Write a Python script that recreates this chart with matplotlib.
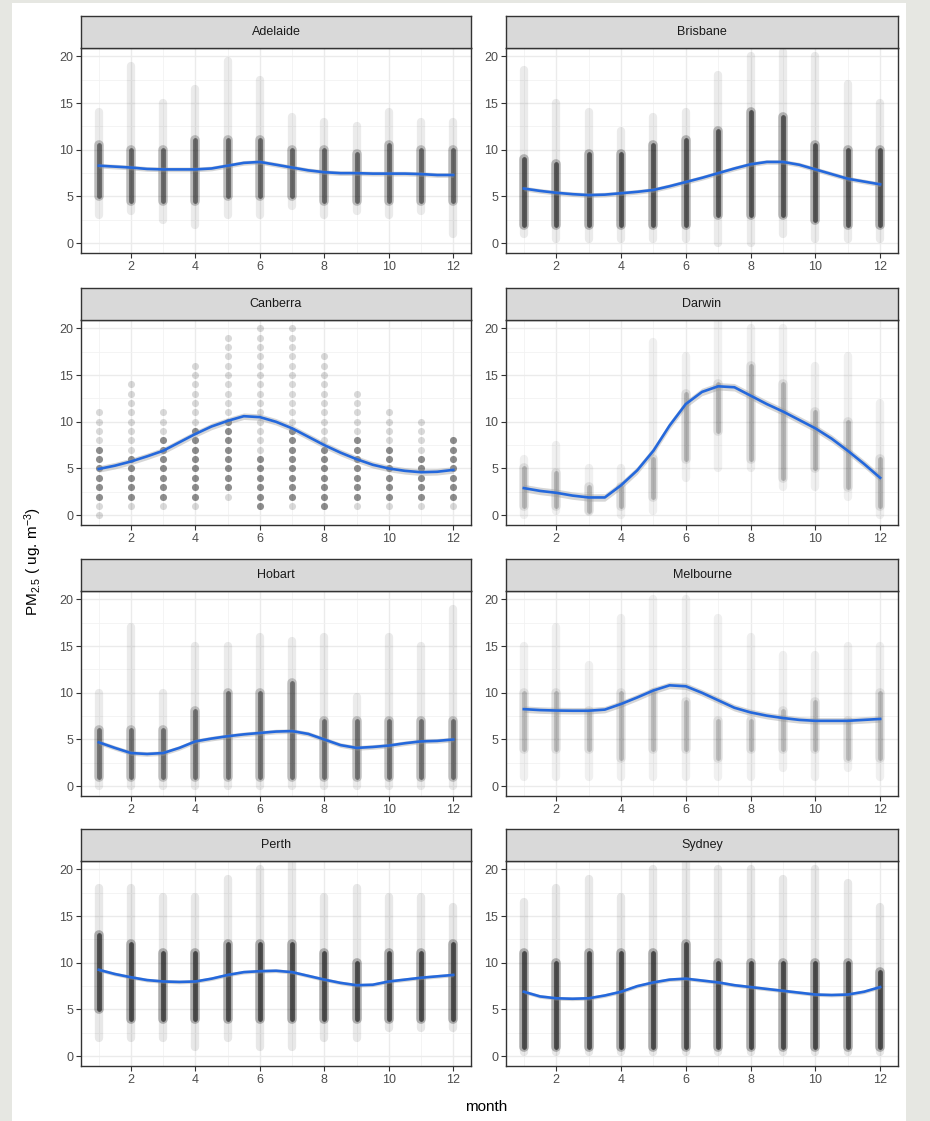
import numpy as np
import matplotlib.pyplot as plt
from matplotlib.patches import Rectangle

plt.rcParams['font.family'] = ['Liberation Sans', 'DejaVu Sans']
plt.rcParams['mathtext.default'] = 'regular'

cities = ["Adelaide", "Brisbane", "Canberra", "Darwin",
          "Hobart", "Melbourne", "Perth", "Sydney"]
months = [1, 2, 3, 4, 5, 6, 7, 8, 9, 10, 11, 12]
fit_x = [1, 1.5, 2, 2.5, 3, 3.5, 4, 4.5, 5, 5.5, 6, 6.5,
         7, 7.5, 8, 8.5, 9, 9.5, 10, 10.5, 11, 11.5, 12]
x_ticks = [2, 4, 6, 8, 10, 12]
y_ticks = [0, 5, 10, 15, 20]

# loess fit (half month steps)
adelaide_fit = [8.3, 8.2, 8.1, 7.95, 7.9, 7.9, 7.9, 8.0, 8.3, 8.6, 8.7, 8.4,
                8.1, 7.8, 7.6, 7.5, 7.5, 7.45, 7.45, 7.45, 7.4, 7.3, 7.3]
brisbane_fit = [5.85, 5.6, 5.4, 5.25, 5.15, 5.2, 5.35, 5.5, 5.7, 6.1, 6.55, 7.0,
                7.5, 8.0, 8.45, 8.7, 8.7, 8.4, 7.9, 7.4, 6.9, 6.6, 6.3]
canberra_fit = [4.95, 5.3, 5.75, 6.3, 6.9, 7.8, 8.7, 9.5, 10.1, 10.6, 10.5, 10.0,
                9.3, 8.4, 7.5, 6.7, 6.0, 5.4, 5.0, 4.75, 4.6, 4.65, 4.85]
darwin_fit = [2.9, 2.6, 2.4, 2.1, 1.9, 1.9, 3.2, 4.8, 6.9, 9.6, 11.9, 13.2,
              13.8, 13.7, 12.8, 11.9, 11.1, 10.2, 9.3, 8.2, 6.9, 5.5, 4.0]
hobart_fit = [4.7, 4.1, 3.55, 3.45, 3.55, 4.1, 4.8, 5.1, 5.35, 5.55, 5.7, 5.85,
              5.9, 5.6, 5.0, 4.4, 4.1, 4.2, 4.35, 4.6, 4.8, 4.85, 5.0]
melbourne_fit = [8.25, 8.15, 8.1, 8.08, 8.08, 8.2, 8.8, 9.5, 10.25, 10.8, 10.7, 10.0,
                 9.2, 8.4, 7.9, 7.55, 7.3, 7.1, 7.0, 7.0, 7.0, 7.1, 7.2]
perth_fit = [9.25, 8.8, 8.45, 8.15, 8.0, 7.95, 8.0, 8.3, 8.7, 9.0, 9.1, 9.15,
             9.0, 8.6, 8.2, 7.85, 7.6, 7.65, 8.0, 8.2, 8.4, 8.55, 8.7]
sydney_fit = [6.9, 6.4, 6.2, 6.15, 6.2, 6.5, 6.9, 7.5, 7.9, 8.2, 8.3, 8.1,
              7.9, 7.6, 7.4, 7.2, 7.0, 6.8, 6.6, 6.55, 6.6, 6.9, 7.4]
fit_se = [0.25, 0.25, 0.35, 0.4, 0.25, 0.35, 0.2, 0.2]

# spread of daily values per month: full range and dense core
adelaide_lo = [3, 3.5, 2.5, 2, 3, 3, 4, 3, 3.5, 3, 3.5, 1]
adelaide_hi = [14, 19, 15, 16.5, 19.5, 17.5, 13.5, 13, 12.5, 14, 13, 13]
adelaide_core_lo = [5, 4.5, 4.5, 4.5, 5, 5, 5, 4.5, 4.5, 4.5, 4.5, 4.5]
adelaide_core_hi = [10.5, 10, 10, 11, 11, 11, 10, 10, 9.5, 10.5, 10, 10]

brisbane_lo = [1, 0.5, 0.5, 0.5, 0.5, 0.5, 0, 0, 1, 0.5, 0.5, 0.5]
brisbane_hi = [18.5, 15, 14, 12, 13.5, 14, 18, 20, 20.5, 20, 17, 15]
brisbane_core_lo = [2, 2, 2, 2, 2, 2, 3, 3, 3, 2.5, 2, 2]
brisbane_core_hi = [9, 8.5, 9.5, 9.5, 10.5, 11, 12, 14, 13.5, 10.5, 10, 10]

canberra_lo = [0, 1, 1, 1, 2, 1, 1, 1, 1, 1, 1, 1]
canberra_hi = [11, 14, 11, 16, 19, 20, 20, 17, 13, 11, 10, 8]
canberra_core_lo = [2, 2, 2, 2, 3, 1, 2, 1, 2, 2, 2, 2]
canberra_core_hi = [7, 6, 8, 9, 10, 6, 9, 7, 8, 7, 6, 8]

darwin_lo = [0, 0.5, 0.5, 0, 0.5, 4, 5, 5, 3, 3, 2, 0]
darwin_hi = [6, 7.5, 5, 5, 18.5, 17, 21, 20, 20, 16, 17, 12]
darwin_core_lo = [1, 1, 0.5, 1, 2, 6, 9, 6, 4, 5, 3, 1]
darwin_core_hi = [5, 4.5, 3, 3, 6, 13, 14, 16, 14, 11, 10, 6]

hobart_lo = [0, 0, 0, 0, 0, 0, 0, 0, 0, 0, 0, 0]
hobart_hi = [10, 17, 10, 15, 15, 16, 15.5, 16, 9.5, 16, 15, 19]
hobart_core_lo = [1, 1, 1, 1, 1, 1, 1, 1, 1, 1, 1, 1]
hobart_core_hi = [6, 6, 6, 8, 10, 10, 11, 7, 7, 7, 7, 7]

melbourne_lo = [1, 1, 1, 1, 1, 1, 1, 1, 2, 1, 2, 1]
melbourne_hi = [15, 17, 13, 18, 20, 20, 18, 16, 14, 14, 15, 15]
melbourne_core_lo = [4, 4, 4, 3, 4, 4, 3, 4, 4, 4, 3, 3]
melbourne_core_hi = [10, 10, 8, 10, 10, 9, 7, 7, 8, 9, 7, 10]

perth_lo = [2, 2, 2, 1, 2, 1, 1, 2, 2, 3, 3, 3]
perth_hi = [18, 18, 17, 17, 19, 20, 21, 17, 18, 17, 17, 16]
perth_core_lo = [5, 4, 4, 4, 4, 4, 4, 4, 4, 4, 4, 4]
perth_core_hi = [13, 12, 11, 11, 12, 12, 12, 11, 10, 11, 11, 12]

sydney_lo = [0.5, 0.5, 0.5, 0.5, 0.5, 0.5, 0.5, 0.5, 0.5, 0.5, 0.5, 0.5]
sydney_hi = [16.5, 18, 19, 17, 20, 21, 20, 20, 19, 20, 18.5, 16]
sydney_core_lo = [1, 1, 1, 1, 1, 1, 1, 1, 1, 1, 1, 1]
sydney_core_hi = [11, 10, 11, 11, 11, 12, 10, 10, 10, 10, 10, 9]

# how dark the point columns look in each panel
core_alpha = [0.6, 0.7, 0.35, 0.25, 0.55, 0.22, 0.75, 0.75]
range_alpha = [0.08, 0.08, 0.15, 0.06, 0.08, 0.06, 0.09, 0.09]

fits = [adelaide_fit, brisbane_fit, canberra_fit, darwin_fit,
        hobart_fit, melbourne_fit, perth_fit, sydney_fit]
los = [adelaide_lo, brisbane_lo, canberra_lo, darwin_lo,
       hobart_lo, melbourne_lo, perth_lo, sydney_lo]
his = [adelaide_hi, brisbane_hi, canberra_hi, darwin_hi,
       hobart_hi, melbourne_hi, perth_hi, sydney_hi]
core_los = [adelaide_core_lo, brisbane_core_lo, canberra_core_lo, darwin_core_lo,
            hobart_core_lo, melbourne_core_lo, perth_core_lo, sydney_core_lo]
core_his = [adelaide_core_hi, brisbane_core_hi, canberra_core_hi, darwin_core_hi,
            hobart_core_hi, melbourne_core_hi, perth_core_hi, sydney_core_hi]

W, H = 930, 1121
fig = plt.figure(figsize=(W/100, H/100), dpi=100, facecolor='#e6e7e2')
fig.patches.append(Rectangle((12/W, 0), (906-12)/W, 1-3/H, transform=fig.transFigure,
                             facecolor='white', edgecolor='none', zorder=-1))

col_x = [81, 506]
col_w = [390, 392]
strip_top = [16, 288, 559, 829]
strip_h = 32
panel_h = 205

for i, city in enumerate(cities):
    r, c = divmod(i, 2)
    left = col_x[c]/W
    width = col_w[c]/W
    top = strip_top[r] + strip_h
    ax = fig.add_axes([left, 1-(top+panel_h)/H, width, panel_h/H])
    sax = fig.add_axes([left, 1-top/H, width, strip_h/H])

    # points
    m = np.array(months)
    if city == "Canberra":
        for k in range(12):
            vals = np.arange(los[i][k], his[i][k]+1)
            dark = (vals >= core_los[i][k]) & (vals <= core_his[i][k])
            ax.scatter(np.full(vals.size, m[k]), vals, s=26, color='black',
                       alpha=range_alpha[i], linewidths=0, zorder=2)
            ax.scatter(np.full(dark.sum(), m[k]), vals[dark], s=26, color='black',
                       alpha=core_alpha[i], linewidths=0, zorder=2)
    else:
        ax.vlines(m, los[i], his[i], color='black', alpha=range_alpha[i],
                  lw=6, capstyle='round', zorder=2)
        ax.vlines(m, core_los[i], core_his[i], color='black', alpha=core_alpha[i]*0.35,
                  lw=7, capstyle='round', zorder=2)
        ax.vlines(m, core_los[i], core_his[i], color='black', alpha=core_alpha[i]*0.75,
                  lw=3.5, capstyle='round', zorder=2)

    f = np.array(fits[i])
    ax.fill_between(fit_x, f-fit_se[i], f+fit_se[i], color='#999999', alpha=0.4,
                    lw=0, zorder=3)
    ax.plot(fit_x, f, color='#2468dc', lw=1.9, zorder=4)

    ax.set_xlim(0.45, 12.55)
    ax.set_ylim(-1.05, 20.9)
    ax.set_xticks(x_ticks)
    ax.set_xticks([1, 3, 5, 7, 9, 11], minor=True)
    ax.set_yticks(y_ticks)
    ax.set_yticks([2.5, 7.5, 12.5, 17.5], minor=True)
    ax.grid(which='major', color='#ebebeb', lw=1.0)
    ax.grid(which='minor', color='#f2f2f2', lw=0.6)
    ax.set_axisbelow(True)
    ax.tick_params(which='major', length=3.5, width=0.8, color='#333333',
                   labelcolor='#4d4d4d', labelsize=9, pad=2)
    ax.tick_params(which='minor', length=0)
    for s in ax.spines.values():
        s.set_color('#333333')
        s.set_linewidth(1.0)

    sax.set_facecolor('#d9d9d9')
    sax.set_xticks([])
    sax.set_yticks([])
    for s in sax.spines.values():
        s.set_color('#333333')
        s.set_linewidth(1.0)
    sax.text(0.5, 0.5, city, ha='center', va='center', fontsize=9,
             color='#1a1a1a', transform=sax.transAxes)

fig.text(33/W, 1-562/H, r'PM$_{2.5}$ ( ug. m$^{-3}$)', rotation=90,
         ha='center', va='center', fontsize=11, color='black')
fig.text(486/W, 1-1107/H, 'month', ha='center', va='center', fontsize=11,
         color='black')

plt.savefig('out.png', dpi=100, facecolor=fig.get_facecolor())
